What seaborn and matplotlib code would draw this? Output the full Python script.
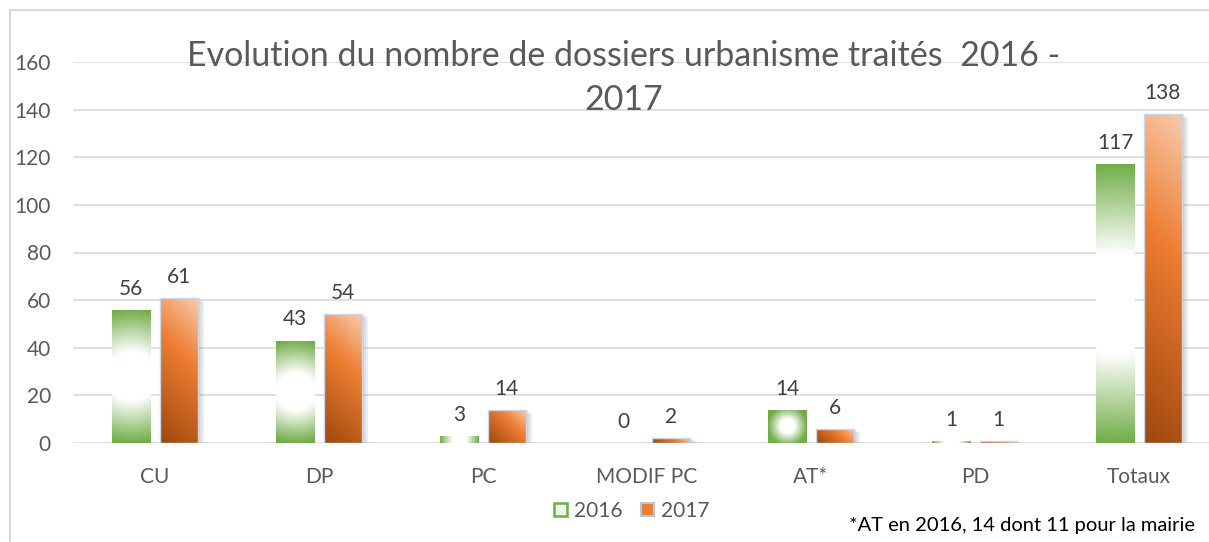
import numpy as np
import pandas as pd
import seaborn as sns
import matplotlib
matplotlib.use('Agg')
from matplotlib import pyplot as plt
from matplotlib.colors import LinearSegmentedColormap, to_rgb
from matplotlib.lines import Line2D
from matplotlib.patches import Patch, Rectangle
import matplotlib.transforms as mtransforms

categories = ['CU', 'DP', 'PC', 'MODIF PC', 'AT*', 'PD', 'Totaux']
vals_2016 = [56, 43, 3, 0, 14, 1, 117]
vals_2017 = [61, 54, 14, 2, 6, 1, 138]
years = ['2016', '2017']
title = 'Evolution du nombre de dossiers urbanisme traités  2016 -\n2017'
footnote = '*AT en 2016, 14 dont 11 pour la mairie'

sns.set_theme(style='white')
plt.rcParams['font.family'] = ['Lato', 'DejaVu Sans']

GREEN = '#70AD47'
TXT = '#595959'
GRID = '#D9D9D9'
orange_cmap = LinearSegmentedColormap.from_list(
    'orange', [(0, '#9E480E'), (0.6, '#ED7D31'), (1, '#F8CBAD')])

df = pd.DataFrame({
    'cat': categories * 2,
    'val': vals_2016 + vals_2017,
    'year': [years[0]] * len(categories) + [years[1]] * len(categories),
})

W_PX, H_PX = 1209, 542
fig = plt.figure(figsize=(W_PX / 100, H_PX / 100), dpi=100)
ax_l, ax_r, ax_b, ax_t = 73, 1221, 443, 62
ax = fig.add_axes([ax_l / W_PX, 1 - ax_b / H_PX, (ax_r - ax_l) / W_PX, (ax_b - ax_t) / H_PX])

sns.barplot(data=df, x='cat', y='val', hue='year', palette=[GREEN, '#ED7D31'],
            width=0.58, gap=0.2, ax=ax, legend=False, errorbar=None)

ax.set_ylim(0, 160)
ax.set_xlim(-0.5, len(categories) - 0.5)
ax.set_yticks(range(0, 161, 20))
ax.yaxis.grid(True, color=GRID, lw=1.2, zorder=0)
ax.set_axisbelow(True)
for s in ax.spines.values():
    s.set_visible(False)
ax.set_xlabel('')
ax.set_ylabel('')
ax.tick_params(axis='y', length=0, pad=16, labelsize=15, labelcolor=TXT)
ax.tick_params(axis='x', length=0, pad=17, labelsize=15, labelcolor=TXT)

px_per_x = (ax_r - ax_l) / len(categories)
px_per_y = (ax_b - ax_t) / 160


def green_img(w, h):
    nx, ny = max(int(w), 2), max(int(h), 2)
    xs = (np.arange(nx) + 0.5) - nx / 2
    ys = (np.arange(ny) + 0.5) - ny / 2
    X, Y = np.meshgrid(xs, ys)
    d = np.hypot(X, Y)
    m = max(w, h)
    r0, r1 = 0.18 * m, 0.5 * m
    t = np.clip((d - r0) / (r1 - r0), 0, 1)[..., None]
    g = np.array(to_rgb(GREEN))
    return np.ones(3) * (1 - t) + g * t


def orange_img(w, h):
    nx, ny = max(int(w), 2), max(int(h), 2)
    X, Y = np.meshgrid(np.linspace(0, w, nx), np.linspace(0, h, ny))
    t = (X + Y) / (w + h)
    return orange_cmap(t)


for i, cont in enumerate(ax.containers):
    for bar in cont:
        x0, w, h = bar.get_x(), bar.get_width(), bar.get_height()
        if h <= 0:
            bar.set_visible(False)
            continue
        wp, hp = w * px_per_x, h * px_per_y
        if i == 0:
            img = green_img(wp, hp)
            bar.set_facecolor('none')
            bar.set_edgecolor('none')
        else:
            img = orange_img(wp, hp)
            bar.set_facecolor('none')
            bar.set_edgecolor('#C9D6EC')
            bar.set_linewidth(1)
            # soft drop shadow
            for dx, dy in [(2, 1), (4, 2), (6, 3)]:
                tr = ax.transData + mtransforms.ScaledTranslation(dx / 100, -dy / 100, fig.dpi_scale_trans)
                ax.add_patch(Rectangle((x0, 0), w, h, transform=tr, facecolor='#7F7F7F',
                                       edgecolor='none', alpha=0.13, zorder=1.5))
        im = ax.imshow(img, extent=[x0, x0 + w, 0, h], origin='lower', aspect='auto',
                       zorder=2, interpolation='bilinear')
        im.set_clip_path(bar)
        bar.set_zorder(3)
    ax.bar_label(cont, padding=8, fontsize=15, color='#404040')

ax.set_xlim(-0.5, len(categories) - 0.5)
ax.set_ylim(0, 160)

fig.text(624 / W_PX, 1 - 78 / H_PX, title, ha='center', va='center', fontsize=24.5,
         color=TXT, linespacing=1.5)

handles = [Patch(facecolor='#EEF6E8', edgecolor=GREEN, lw=1.8),
           Patch(facecolor='#ED7D31', edgecolor='#B4C7E7', lw=1.5)]
leg = fig.legend(handles, years, loc='center', bbox_to_anchor=(632 / W_PX, 1 - 511 / H_PX),
                 ncol=2, frameon=False, fontsize=15, handlelength=0.6, handleheight=0.6,
                 handletextpad=0.35, columnspacing=0.9)
for t in leg.get_texts():
    t.set_color(TXT)

fig.text(1195 / W_PX, 1 - 525 / H_PX, footnote, ha='right', va='center', fontsize=14.5, color='black')

fig.add_artist(Line2D([10 / W_PX, 10 / W_PX], [0, 1 - 10 / H_PX], color=GRID, lw=1.5))
fig.add_artist(Line2D([10 / W_PX, 1], [1 - 10 / H_PX, 1 - 10 / H_PX], color=GRID, lw=1.5))

fig.savefig('out.png', dpi=100)
